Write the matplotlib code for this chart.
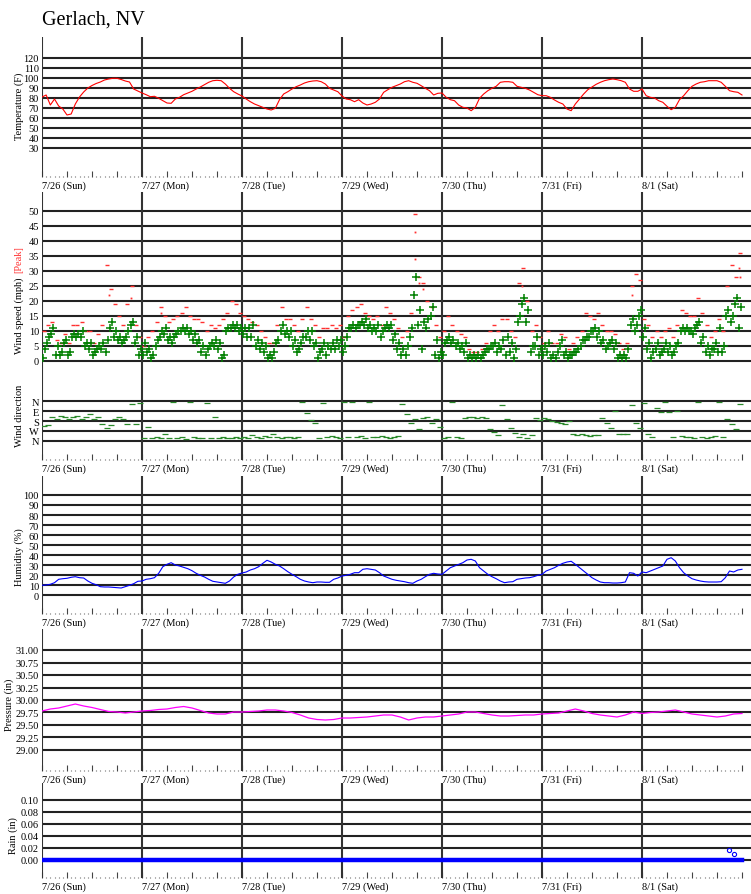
import matplotlib
matplotlib.use("Agg")
import matplotlib.pyplot as plt
from matplotlib.ticker import FixedLocator

# ---------------------------------------------------------------------------
# Data (hours since 7/26 00:00)
# ---------------------------------------------------------------------------
day_labels = ["7/26 (Sun)", "7/27 (Mon)", "7/28 (Tue)", "7/29 (Wed)",
              "7/30 (Thu)", "7/31 (Fri)", "8/1 (Sat)"]
day_starts = [0, 24, 48, 72, 96, 120, 144]

hours = list(range(0, 169))

temp_f = [
    81, 83, 73, 79, 72, 69, 63, 64, 74, 81, 86, 90, 92.5, 94.5, 96, 98, 99, 99.7, 99.7, 98.5, 97, 96, 89, 87,
    85, 83.3, 81.3, 81.7, 79.7, 77.3, 75, 74.7, 79, 80.7, 83.3, 85, 86.7, 89, 91, 93.3, 95.7, 97.3, 97.7, 97.3, 94, 89.7, 86.3, 84,
    82, 79, 76.3, 74, 72.3, 70.7, 69, 68, 69.7, 78.3, 84, 86.3, 89, 91.3, 93, 95, 96.3, 97, 97.3, 96.3, 94, 89.7, 88, 86.3,
    82, 79, 78.3, 76.3, 78.3, 75, 73, 74, 75.7, 79, 85.7, 88.3, 90.7, 92.3, 94, 96.3, 97.3, 95.7, 94.7, 92.3, 89.7, 87.3, 83, 84.7,
    85, 80.7, 78.3, 77.3, 73, 70.7, 70, 67.3, 70.7, 79.7, 84, 87.3, 89.7, 91.7, 95.7, 96.3, 96.3, 95.7, 91.7, 90.7, 89.7, 88, 85.7, 83.3,
    82.3, 82.3, 80.7, 78, 75.7, 74, 69, 67.3, 74, 79, 84, 88.3, 91, 93.7, 95.7, 97.3, 98.3, 99, 98.3, 97.3, 95.7, 89, 86.7, 86.7,
    89, 82.3, 80.7, 80, 77.3, 75.7, 71.7, 68.3, 70.7, 78.3, 82.3, 87.3, 91.7, 94, 95.7, 96.3, 97.3, 97.3, 97.3, 95.7, 91.7, 87.3, 86.3, 85.7, 83,
]

humidity_pct = [
    9.7, 10, 10.7, 12.3, 15.7, 16.3, 16.7, 17.7, 18.3, 17.3, 17, 14, 11.7, 10.3, 8.3, 8, 8, 7.7, 7.3, 7, 8.3, 9.7, 11.3, 13.7,
    14, 15.7, 16.3, 17.3, 21.7, 28.3, 30.7, 32.3, 30, 29, 27.7, 26.3, 24.3, 21.7, 19.7, 18, 15.7, 13.7, 13, 12.3, 11.7, 14, 18, 20.7,
    22, 23, 25, 26.3, 28.3, 31.7, 34.7, 33, 30.7, 29, 26.3, 23.3, 20.7, 18.3, 15.7, 14, 13, 12.3, 13, 13, 12.7, 12.7, 15.7, 17,
    19, 19.7, 20.7, 22.3, 22.3, 25.7, 26.3, 25.7, 25, 22.3, 19, 17.3, 15.7, 14.7, 14, 13.3, 12.3, 11.7, 14, 15.7, 18.3, 20.7, 21.7, 21,
    20.7, 24, 27.3, 29, 30.7, 32.3, 35, 35.7, 34, 27.3, 24, 20.7, 18.3, 16.3, 14, 12.3, 13, 13.3, 15.7, 16.3, 17, 17.3, 18.3, 19.7,
    20.7, 24, 25.7, 27.3, 29.7, 31.7, 33, 33.7, 30.7, 27.3, 24, 20.7, 17.3, 15, 13, 12.3, 12.3, 12, 12, 12.3, 13, 22.3, 21.7, 19,
    23, 22.3, 24, 25.7, 27.3, 29, 35.7, 37.3, 34, 27.3, 22.3, 19, 16.3, 15, 14, 13.3, 13, 13, 13, 13.3, 17.3, 24, 23, 25, 25.7,
]

pressure_hours = list(range(0, 169, 2))
pressure_in = [
    29.78, 29.82, 29.84, 29.88, 29.92, 29.88, 29.85, 29.81, 29.77, 29.76, 29.74, 29.76,
    29.78, 29.79, 29.81, 29.82, 29.85, 29.87, 29.84, 29.79, 29.74, 29.72, 29.72, 29.76,
    29.76, 29.77, 29.78, 29.80, 29.80, 29.78, 29.75, 29.70, 29.64, 29.61, 29.60, 29.61,
    29.64, 29.64, 29.65, 29.66, 29.68, 29.70, 29.70, 29.66, 29.60, 29.64, 29.66, 29.66,
    29.68, 29.70, 29.72, 29.76, 29.76, 29.73, 29.70, 29.68, 29.68, 29.69, 29.70, 29.70,
    29.72, 29.73, 29.74, 29.78, 29.82, 29.78, 29.73, 29.70, 29.68, 29.66, 29.70, 29.76,
    29.73, 29.75, 29.76, 29.78, 29.80, 29.76, 29.72, 29.70, 29.68, 29.66, 29.68, 29.72, 29.73,
]

# sustained wind, two readings per hour (at :15 and :45)
wind_hours = list(range(0, 168))
wind_a = [
    1, 6, 9, 2, 2, 6, 2, 8, 8, 8, 5, 4, 2, 4, 4, 3, 11, 8, 7, 6, 8, 12, 6, 2,
    2, 3, 1, 5, 8, 9, 7, 6, 9, 10, 10, 9, 7, 6, 3, 2, 5, 5, 4, 1, 10, 11, 11, 10,
    9, 8, 8, 5, 4, 3, 1, 1, 6, 10, 9, 8, 5, 3, 6, 8, 7, 5, 1, 4, 2, 4, 4, 5,
    3, 8, 11, 11, 12, 12, 11, 10, 10, 8, 11, 11, 7, 4, 2, 2, 8, 22, 12, 4, 11, 15, 2, 1,
    2, 7, 6, 5, 4, 3, 1, 1, 1, 1, 3, 4, 5, 3, 4, 2, 3, 1, 13, 19, 13, 3, 5, 2,
    2, 3, 1, 1, 5, 2, 1, 2, 3, 5, 7, 8, 10, 8, 6, 4, 6, 4, 1, 1, 1, 12, 10, 15,
    8, 4, 1, 4, 2, 4, 3, 2, 5, 10, 10, 10, 9, 12, 6, 3, 2, 4, 3, 3, 15, 13, 19, 11,
]
wind_b = [
    4, 8, 11, 5, 3, 7, 3, 9, 9, 10, 6, 6, 3, 5, 6, 7, 13, 10, 8, 7, 10, 13, 8, 4,
    6, 4, 2, 7, 10, 11, 8, 8, 10, 11, 11, 10, 9, 7, 5, 4, 6, 7, 6, 2, 11, 12, 12, 11,
    11, 11, 12, 7, 6, 5, 2, 3, 7, 12, 10, 10, 7, 4, 8, 10, 10, 6, 3, 6, 5, 6, 7, 7,
    5, 11, 12, 12, 13, 14, 12, 11, 12, 10, 12, 12, 9, 6, 4, 5, 11, 28, 17, 13, 14, 18, 7, 3,
    6, 8, 7, 6, 5, 6, 2, 2, 2, 2, 4, 5, 6, 5, 7, 8, 6, 4, 15, 21, 17, 5, 8, 4,
    5, 6, 2, 3, 7, 3, 2, 3, 4, 7, 8, 10, 11, 10, 7, 5, 7, 6, 2, 2, 4, 14, 12, 17,
    11, 6, 3, 6, 3, 6, 5, 3, 6, 11, 11, 10, 11, 13, 8, 5, 4, 6, 11, 5, 17, 15, 21, 18,
]
gust_mph = [
    10, 12, 13, 7, 6, 9, 6, 12, 12, 13, 10, 10, 6, 9, 12, 32, 24, 19, 15, 12, 19, 25, 12, 8,
    5, 8, 10, 13, 18, 15, 13, 14, 15, 16, 18, 15, 14, 14, 13, 10, 12, 11, 12, 14, 16, 20, 19, 16,
    15, 14, 13, 12, 10, 8, 6, 6, 12, 18, 14, 14, 12, 10, 14, 18, 14, 12, 8, 11, 11, 12, 11, 12,
    8, 15, 17, 18, 19, 16, 15, 14, 15, 12, 18, 16, 14, 11, 8, 10, 16, 49, 28, 26, 20, 18, 12, 8,
    10, 15, 12, 10, 9, 8, 4, 3, 3, 4, 6, 10, 12, 10, 14, 14, 10, 8, 26, 31, 20, 10, 12, 8,
    6, 10, 6, 6, 9, 8, 4, 6, 8, 10, 16, 15, 14, 16, 12, 10, 10, 9, 6, 4, 6, 25, 29, 27,
    14, 12, 8, 10, 8, 10, 11, 8, 12, 17, 16, 15, 15, 21, 16, 12, 8, 10, 14, 10, 25, 32, 28, 36,
]
gust_extra_hours = [16.1, 21.3, 28.6, 89.4, 89.6, 90.5, 91.5, 115.3, 141.5, 167.3, 167.5]
gust_extra_mph = [22, 21, 16, 43, 34, 26, 24, 25, 22, 31, 28]

wind_dir_deg = [
    225, 215, 140, 160, 135, 140, 160, 140, 135, 160, 140, 120, 160, 140, 210, 240, 215, 160, 140, 160, 210, 30, 210, 20,
    330, 230, 330, 320, 335, 300, 330, 5, 335, 320, 340, 10, 325, 330, 335, 20, 330, 145, 330, 320, 335, 330, 320, 330,
    320, 330, 310, 320, 330, 315, 320, 300, 320, 330, 325, 320, 330, 320, 10, 110, 170, 200, 330, 20, 325, 315, 320, 330,
    5, 320, 10, 320, 315, 330, 5, 320, 320, 315, 320, 330, 320, 315, 30, 120, 200, 160, 250, 150, 140, 200, 160, 230,
    330, 325, 5, 320, 330, 150, 145, 145, 150, 145, 150, 250, 280, 310, 40, 160, 240, 290, 320, 300, 330, 310, 155, 175,
    150, 160, 180, 185, 200, 210, 180, 300, 310, 300, 310, 315, 310, 305, 150, 200, 240, 90, 300, 300, 295, 40, 200, 240,
    20, 300, 320, 60, 95, 5, 100, 320, 90, 315, 320, 325, 330, 10, 320, 330, 320, 315, 10, 320, 160, 210, 250, 30,
]

rain_in = [0.0] * 169
rain_spot_hours = [164.9, 166.1]
rain_spot_in = [0.017, 0.010]

temp_ticks = [30, 40, 50, 60, 70, 80, 90, 100, 110, 120]
wind_ticks = [0, 5, 10, 15, 20, 25, 30, 35, 40, 45, 50]
dir_ticks = [0, 90, 180, 270, 360]
dir_labels = ["N", "E", "S", "W", "N"]
hum_ticks = [0, 10, 20, 30, 40, 50, 60, 70, 80, 90, 100]
pres_ticks = [29.00, 29.25, 29.50, 29.75, 30.00, 30.25, 30.50, 30.75, 31.00]
rain_ticks = [0.00, 0.02, 0.04, 0.06, 0.08, 0.10]

# ---------------------------------------------------------------------------
W, H = 751, 895
LINE = "#222222"
plt.rcParams.update({
    "font.family": ["Liberation Serif", "DejaVu Serif"],
    "font.size": 7.5,
    "figure.facecolor": "white",
    "axes.facecolor": "none",
    "savefig.facecolor": "white",
})


def box(top, bottom, left=42, right=751):
    return [left / W, 1 - bottom / H, (right - left) / W, (bottom - top) / H]


def style(ax, ylim, yticks, yfmt, show_time=True):
    ax.set_xlim(0, 170.16)
    ax.set_ylim(*ylim)
    for s in ax.spines.values():
        s.set_visible(False)
    ax.yaxis.set_major_locator(FixedLocator(yticks))
    ax.set_yticklabels([yfmt(v) for v in yticks])
    ax.tick_params(axis="y", length=0, pad=2.2, labelsize=7.5)
    ax.yaxis.grid(True, color=LINE, linewidth=1.5)
    ax.set_axisbelow(True)
    for d in day_starts:
        ax.axvline(d, color="#333333", linewidth=1.5, zorder=1)
    if show_time:
        ax.set_xticks(list(range(0, 169, 6)))
        ax.set_xticks(list(range(0, 169)), minor=True)
        ax.tick_params(axis="x", which="major", direction="in", length=4,
                       width=0.8, color="#444444", labelbottom=False)
        ax.tick_params(axis="x", which="minor", direction="in", length=0.9,
                       width=0.8, color="#666666")
        for d, lab in zip(day_starts, day_labels):
            ax.annotate(lab, xy=(d, 0), xycoords=("data", "axes fraction"),
                        xytext=(0.3, -5.8), textcoords="offset points",
                        ha="left", va="center", fontsize=7.5)
    else:
        ax.set_xticks([])


def ylabel(text, x, y, color="black"):
    fig.text(x / W, 1 - y / H, text, rotation=90, ha="center", va="center",
             fontsize=7.5, color=color)


fig = plt.figure(figsize=(W / 100, H / 100), dpi=100)
fig.text(42 / W, 1 - 25 / H, "Gerlach, NV", fontsize=14.5, va="baseline", ha="left")

# temperature
ax = fig.add_axes(box(38, 178))
style(ax, (1, 141), temp_ticks, lambda v: f"{v:d}")
ax.plot(hours, temp_f, color="#ff0000", linewidth=0.8, zorder=3)
ylabel("Temperature (F)", 19, 106)

# wind speed
ax = fig.add_axes(box(193, 380))
style(ax, (-6, 56.33), wind_ticks, lambda v: f"{v:d}", show_time=False)
ax.plot(gust_extra_hours, gust_extra_mph, linestyle="none", marker="s",
        markersize=1.3, color="#ff3030", mew=0, zorder=3)
ax.plot([h + 0.5 for h in wind_hours], gust_mph, linestyle="none", marker="_",
        markersize=2.5, color="#ff3030", mew=1.0, zorder=3)
ax.plot([h + 0.25 for h in wind_hours], wind_a, linestyle="none", marker="+",
        markersize=6, mew=1.1, color="#008000", zorder=4)
ax.plot([h + 0.75 for h in wind_hours], wind_b, linestyle="none", marker="+",
        markersize=6, mew=1.1, color="#008000", zorder=4)
ylabel("Wind speed (mph)", 19, 316)
ylabel("[Peak]", 19, 260, color="#ff3030")

# wind direction
ax = fig.add_axes(box(380, 461))
style(ax, (531, -198), dir_ticks, lambda v: "", show_time=True)
ax.set_yticklabels(dir_labels)
ax.plot([h + 0.5 for h in wind_hours], wind_dir_deg, linestyle="none",
        marker="_", markersize=4.5, mew=0.9, color="#2a8a2a", zorder=3)
ylabel("Wind direction", 19, 416)

# humidity
ax = fig.add_axes(box(477, 615))
style(ax, (-19, 119), hum_ticks, lambda v: f"{v:d}")
ax.plot(hours, humidity_pct, color="#0000ff", linewidth=0.8, zorder=3)
ylabel("Humidity (%)", 19, 557)

# pressure
ax = fig.add_axes(box(630, 772))
style(ax, (28.58, 31.42), pres_ticks, lambda v: f"{v:.2f}")
ax.plot(pressure_hours, pressure_in, color="#ff00ff", linewidth=0.9, zorder=3)
ylabel("Pressure (in)", 9, 705)

# rain
ax = fig.add_axes(box(784, 879))
style(ax, (-0.03, 0.1283), rain_ticks, lambda v: f"{v:.2f}")
ax.plot(hours, rain_in, color="#0000ff", linewidth=3.2, zorder=3)
ax.plot(rain_spot_hours, rain_spot_in, linestyle="none", marker="o",
        markersize=3, mfc="none", mew=0.8, color="#0000ff", zorder=3)
ylabel("Rain (in)", 13, 836)

fig.savefig("out.png", dpi=100)
